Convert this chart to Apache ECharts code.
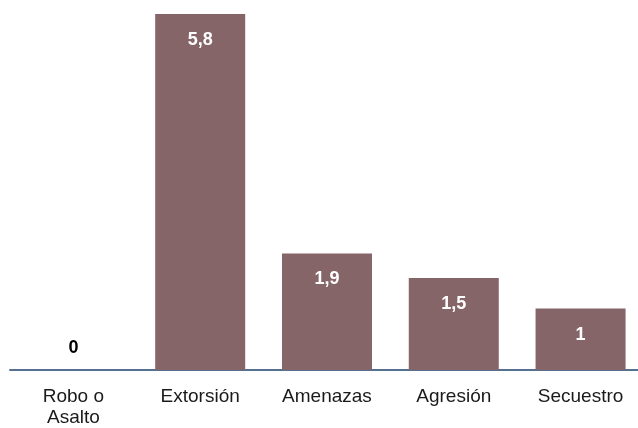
<!DOCTYPE html>
<html>
<head>
<meta charset="utf-8">
<script src="https://cdn.jsdelivr.net/npm/echarts@6/dist/echarts.min.js"></script>
<style>
  html, body { margin: 0; padding: 0; background: #fff; }
  #chart { width: 638px; height: 428px; }
</style>
</head>
<body>
<div id="chart"></div>
<script>
const categories = ['Robo o\nAsalto', 'Extorsión', 'Amenazas', 'Agresión', 'Secuestro']
const values = [0, 5.8, 1.9, 1.5, 1]

const chart = echarts.init(document.getElementById('chart'))

// eje x numérico: la última categoría queda algo recortada por el borde derecho
const positions = categories.map((_, i) => i)

const barData = values.map((v, i) => {
  const item = { value: [positions[i], v] }
  if (v === 0) {
    // el cero va encima del eje, en negro
    item.label = { position: 'top', distance: 13, color: '#000' }
  }
  return item
})

chart.setOption({
  animation: false,
  grid: { left: 10, top: 0, right: 0, height: 370 },
  xAxis: {
    type: 'value',
    min: -0.5,
    max: 4.453,
    splitLine: { show: false },
    axisLine: { show: true, lineStyle: { color: '#56708f', width: 2 } },
    axisTick: { show: false },
    axisLabel: {
      customValues: positions,
      formatter: (v) => categories[Math.round(v)] || '',
      color: '#1a1a1a',
      fontFamily: 'Liberation Sans, Arial, sans-serif',
      fontSize: 19,
      lineHeight: 21,
      margin: 16
    }
  },
  yAxis: {
    type: 'value',
    min: 0,
    max: 6.028,
    show: false,
    splitLine: { show: false }
  },
  series: [{
    type: 'bar',
    data: barData,
    barWidth: 90,
    itemStyle: { color: '#866569' },
    label: {
      show: true,
      position: 'insideTop',
      distance: 17,
      color: '#fff',
      fontWeight: 'bold',
      fontSize: 18,
      fontFamily: 'Liberation Sans, Arial, sans-serif',
      formatter: (p) => String(p.value[1]).replace('.', ',')
    }
  }]
})
</script>
</body>
</html>
